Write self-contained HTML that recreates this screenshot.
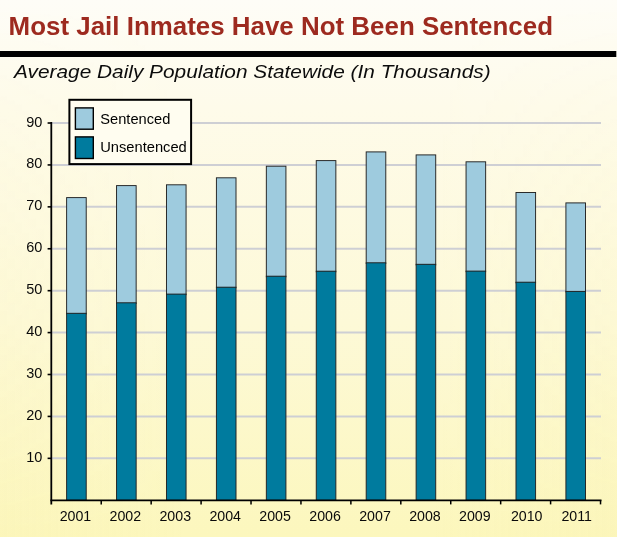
<!DOCTYPE html>
<html><head><meta charset="utf-8"><title>Most Jail Inmates Have Not Been Sentenced</title>
<style>
html,body{margin:0;padding:0;background:#fdfbea;}
body{width:617px;height:537px;overflow:hidden;}
svg{display:block;opacity:0.999;}
text{font-family:"Liberation Sans",sans-serif;}
</style></head><body>
<svg width="617" height="537" viewBox="0 0 617 537">
<defs>
<linearGradient id="bgv" x1="0" y1="0" x2="0" y2="1">
<stop offset="0" stop-color="#fefdf7"/>
<stop offset="0.2" stop-color="#fefbea"/>
<stop offset="0.6" stop-color="#fdf9d7"/>
<stop offset="1" stop-color="#fcf7bd"/>
</linearGradient>
<linearGradient id="bgh" x1="0" y1="0" x2="1" y2="0">
<stop offset="0" stop-color="#f8f0a0" stop-opacity="0.10"/>
<stop offset="0.3" stop-color="#f8f0a0" stop-opacity="0"/>
<stop offset="0.7" stop-color="#f8f0a0" stop-opacity="0"/>
<stop offset="1" stop-color="#f8f0a0" stop-opacity="0.10"/>
</linearGradient>
<linearGradient id="fade" x1="0" y1="0" x2="0" y2="1">
<stop offset="0" stop-color="#fff" stop-opacity="0"/>
<stop offset="0.4" stop-color="#fff" stop-opacity="0.4"/>
<stop offset="1" stop-color="#fff" stop-opacity="1"/>
</linearGradient>
<mask id="m"><rect width="617" height="537" fill="url(#fade)"/></mask>
</defs>
<rect width="617" height="537" fill="url(#bgv)"/>
<rect width="617" height="537" fill="url(#bgh)" mask="url(#m)"/>

<text x="8.6" y="34.9" font-size="25" font-weight="bold" fill="#9d2a1f" textLength="544.4" lengthAdjust="spacingAndGlyphs">Most Jail Inmates Have Not Been Sentenced</text>
<rect x="0" y="51" width="616.3" height="6" fill="#000"/>
<text x="14.1" y="78.4" font-size="19" font-style="italic" fill="#0c0c0c" textLength="476.5" lengthAdjust="spacingAndGlyphs">Average Daily Population Statewide (In Thousands)</text>
<line x1="52" y1="458.34" x2="601" y2="458.34" stroke="#cecfd4" stroke-width="2"/>
<line x1="52" y1="416.42" x2="601" y2="416.42" stroke="#cecfd4" stroke-width="2"/>
<line x1="52" y1="374.50" x2="601" y2="374.50" stroke="#cecfd4" stroke-width="2"/>
<line x1="52" y1="332.59" x2="601" y2="332.59" stroke="#cecfd4" stroke-width="2"/>
<line x1="52" y1="290.68" x2="601" y2="290.68" stroke="#cecfd4" stroke-width="2"/>
<line x1="52" y1="248.76" x2="601" y2="248.76" stroke="#cecfd4" stroke-width="2"/>
<line x1="52" y1="206.85" x2="601" y2="206.85" stroke="#cecfd4" stroke-width="2"/>
<line x1="52" y1="164.93" x2="601" y2="164.93" stroke="#cecfd4" stroke-width="2"/>
<line x1="52" y1="123.02" x2="601" y2="123.02" stroke="#cecfd4" stroke-width="2"/>
<rect x="66.62" y="197.60" width="19.6" height="116.30" fill="#9ecbde" stroke="#222" stroke-width="0.95"/>
<rect x="66.62" y="313.30" width="19.6" height="187.05" fill="#007b9e" stroke="#222" stroke-width="0.95"/>
<rect x="116.55" y="185.60" width="19.6" height="117.80" fill="#9ecbde" stroke="#222" stroke-width="0.95"/>
<rect x="116.55" y="302.80" width="19.6" height="197.55" fill="#007b9e" stroke="#222" stroke-width="0.95"/>
<rect x="166.47" y="184.80" width="19.6" height="109.90" fill="#9ecbde" stroke="#222" stroke-width="0.95"/>
<rect x="166.47" y="294.10" width="19.6" height="206.25" fill="#007b9e" stroke="#222" stroke-width="0.95"/>
<rect x="216.41" y="177.80" width="19.6" height="110.00" fill="#9ecbde" stroke="#222" stroke-width="0.95"/>
<rect x="216.41" y="287.20" width="19.6" height="213.15" fill="#007b9e" stroke="#222" stroke-width="0.95"/>
<rect x="266.33" y="166.20" width="19.6" height="110.60" fill="#9ecbde" stroke="#222" stroke-width="0.95"/>
<rect x="266.33" y="276.20" width="19.6" height="224.15" fill="#007b9e" stroke="#222" stroke-width="0.95"/>
<rect x="316.26" y="160.60" width="19.6" height="111.20" fill="#9ecbde" stroke="#222" stroke-width="0.95"/>
<rect x="316.26" y="271.20" width="19.6" height="229.15" fill="#007b9e" stroke="#222" stroke-width="0.95"/>
<rect x="366.19" y="151.90" width="19.6" height="111.50" fill="#9ecbde" stroke="#222" stroke-width="0.95"/>
<rect x="366.19" y="262.80" width="19.6" height="237.55" fill="#007b9e" stroke="#222" stroke-width="0.95"/>
<rect x="416.12" y="154.90" width="19.6" height="110.00" fill="#9ecbde" stroke="#222" stroke-width="0.95"/>
<rect x="416.12" y="264.30" width="19.6" height="236.05" fill="#007b9e" stroke="#222" stroke-width="0.95"/>
<rect x="466.05" y="161.80" width="19.6" height="109.90" fill="#9ecbde" stroke="#222" stroke-width="0.95"/>
<rect x="466.05" y="271.10" width="19.6" height="229.25" fill="#007b9e" stroke="#222" stroke-width="0.95"/>
<rect x="515.99" y="192.50" width="19.6" height="90.30" fill="#9ecbde" stroke="#222" stroke-width="0.95"/>
<rect x="515.99" y="282.20" width="19.6" height="218.15" fill="#007b9e" stroke="#222" stroke-width="0.95"/>
<rect x="565.91" y="202.90" width="19.6" height="89.10" fill="#9ecbde" stroke="#222" stroke-width="0.95"/>
<rect x="565.91" y="291.40" width="19.6" height="208.95" fill="#007b9e" stroke="#222" stroke-width="0.95"/>
<line x1="51.3" y1="122" x2="51.3" y2="504.4" stroke="#000" stroke-width="1.8"/>
<line x1="50.4" y1="500.35" x2="601.5" y2="500.35" stroke="#000" stroke-width="1.6"/>
<line x1="101.23" y1="500.35" x2="101.23" y2="504.4" stroke="#000" stroke-width="1.5"/>
<line x1="151.16" y1="500.35" x2="151.16" y2="504.4" stroke="#000" stroke-width="1.5"/>
<line x1="201.09" y1="500.35" x2="201.09" y2="504.4" stroke="#000" stroke-width="1.5"/>
<line x1="251.02" y1="500.35" x2="251.02" y2="504.4" stroke="#000" stroke-width="1.5"/>
<line x1="300.95" y1="500.35" x2="300.95" y2="504.4" stroke="#000" stroke-width="1.5"/>
<line x1="350.88" y1="500.35" x2="350.88" y2="504.4" stroke="#000" stroke-width="1.5"/>
<line x1="400.81" y1="500.35" x2="400.81" y2="504.4" stroke="#000" stroke-width="1.5"/>
<line x1="450.74" y1="500.35" x2="450.74" y2="504.4" stroke="#000" stroke-width="1.5"/>
<line x1="500.67" y1="500.35" x2="500.67" y2="504.4" stroke="#000" stroke-width="1.5"/>
<line x1="550.60" y1="500.35" x2="550.60" y2="504.4" stroke="#000" stroke-width="1.5"/>
<line x1="600.53" y1="500.35" x2="600.53" y2="504.4" stroke="#000" stroke-width="1.5"/>
<line x1="47.6" y1="458.34" x2="52" y2="458.34" stroke="#000" stroke-width="1.6"/>
<text x="42.3" y="461.8" font-size="14.5" text-anchor="end" fill="#0a0a0a">10</text>
<line x1="47.6" y1="416.42" x2="52" y2="416.42" stroke="#000" stroke-width="1.6"/>
<text x="42.3" y="419.8" font-size="14.5" text-anchor="end" fill="#0a0a0a">20</text>
<line x1="47.6" y1="374.50" x2="52" y2="374.50" stroke="#000" stroke-width="1.6"/>
<text x="42.3" y="377.8" font-size="14.5" text-anchor="end" fill="#0a0a0a">30</text>
<line x1="47.6" y1="332.59" x2="52" y2="332.59" stroke="#000" stroke-width="1.6"/>
<text x="42.3" y="335.8" font-size="14.5" text-anchor="end" fill="#0a0a0a">40</text>
<line x1="47.6" y1="290.68" x2="52" y2="290.68" stroke="#000" stroke-width="1.6"/>
<text x="42.3" y="293.8" font-size="14.5" text-anchor="end" fill="#0a0a0a">50</text>
<line x1="47.6" y1="248.76" x2="52" y2="248.76" stroke="#000" stroke-width="1.6"/>
<text x="42.3" y="251.8" font-size="14.5" text-anchor="end" fill="#0a0a0a">60</text>
<line x1="47.6" y1="206.85" x2="52" y2="206.85" stroke="#000" stroke-width="1.6"/>
<text x="42.3" y="209.8" font-size="14.5" text-anchor="end" fill="#0a0a0a">70</text>
<line x1="47.6" y1="164.93" x2="52" y2="164.93" stroke="#000" stroke-width="1.6"/>
<text x="42.3" y="167.8" font-size="14.5" text-anchor="end" fill="#0a0a0a">80</text>
<line x1="47.6" y1="123.02" x2="52" y2="123.02" stroke="#000" stroke-width="1.6"/>
<text x="42.3" y="126.8" font-size="14.5" text-anchor="end" fill="#0a0a0a">90</text>
<text x="75.42" y="520.8" font-size="14.2" text-anchor="middle" fill="#0a0a0a">2001</text>
<text x="125.34" y="520.8" font-size="14.2" text-anchor="middle" fill="#0a0a0a">2002</text>
<text x="175.28" y="520.8" font-size="14.2" text-anchor="middle" fill="#0a0a0a">2003</text>
<text x="225.21" y="520.8" font-size="14.2" text-anchor="middle" fill="#0a0a0a">2004</text>
<text x="275.13" y="520.8" font-size="14.2" text-anchor="middle" fill="#0a0a0a">2005</text>
<text x="325.06" y="520.8" font-size="14.2" text-anchor="middle" fill="#0a0a0a">2006</text>
<text x="375.00" y="520.8" font-size="14.2" text-anchor="middle" fill="#0a0a0a">2007</text>
<text x="424.93" y="520.8" font-size="14.2" text-anchor="middle" fill="#0a0a0a">2008</text>
<text x="474.85" y="520.8" font-size="14.2" text-anchor="middle" fill="#0a0a0a">2009</text>
<text x="526.68" y="520.8" font-size="14.2" text-anchor="middle" fill="#0a0a0a">2010</text>
<text x="576.71" y="520.8" font-size="14.2" text-anchor="middle" fill="#0a0a0a">2011</text>
<rect x="69.4" y="99.8" width="121.7" height="64.3" fill="#fffdf0" stroke="#000" stroke-width="2"/>
<rect x="75.4" y="107.9" width="17.9" height="21.3" fill="#9ecbde" stroke="#000" stroke-width="1.4"/>
<rect x="75.4" y="136.9" width="17.9" height="21.6" fill="#007b9e" stroke="#000" stroke-width="1.4"/>
<text x="100.3" y="123.8" font-size="13.9" fill="#000" textLength="70.0" lengthAdjust="spacingAndGlyphs">Sentenced</text>
<text x="100.2" y="152.3" font-size="13.9" fill="#000" textLength="86.6" lengthAdjust="spacingAndGlyphs">Unsentenced</text>
</svg>
</body></html>
